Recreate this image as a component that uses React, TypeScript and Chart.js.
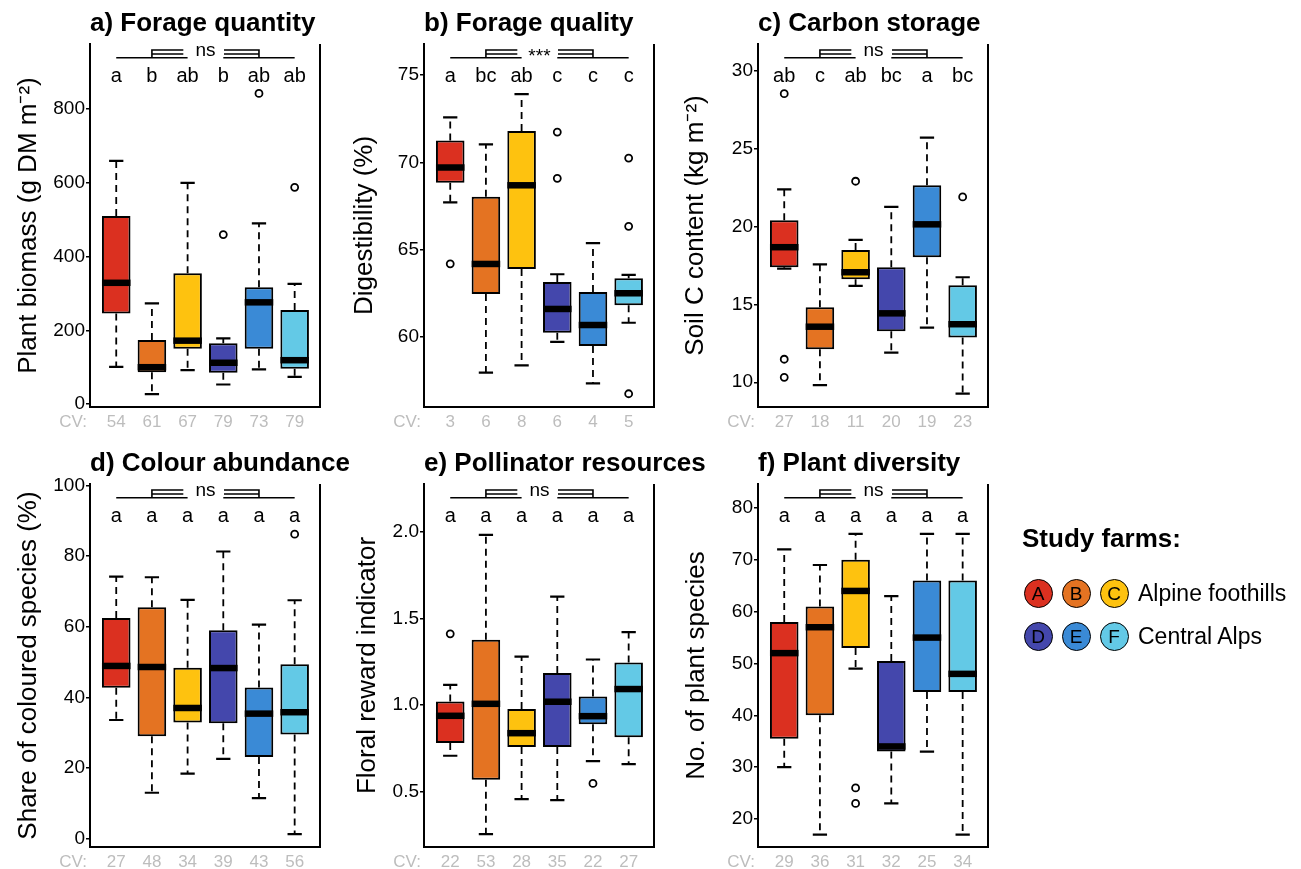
import React, { useEffect, useRef } from "react";
import { Chart, registerables } from "chart.js";

Chart.register(...registerables);

const FONT = "'Liberation Sans', Arial, Helvetica, sans-serif";
Chart.defaults.font.family = FONT;

const farms = ["A", "B", "C", "D", "E", "F"];
const farmColors = ["#DB3020", "#E47322", "#FEC20F", "#4447AC", "#3A8AD6", "#63C9E6"];
const xPositions = [1, 2, 3, 4, 5, 6];

// a) Forage quantity
const aLow = [101, 27, 92, 53, 94, 74];
const aQ1 = [246, 86, 150, 85, 150, 96];
const aMed = [329, 100, 172, 112, 276, 119];
const aQ3 = [510, 174, 355, 165, 317, 255];
const aHigh = [660, 273, 600, 178, 490, 326];
const aOut = [[], [], [], [460], [843], [588]];
const aLetters = ["a", "b", "ab", "b", "ab", "ab"];
const aCV = ["54", "61", "67", "79", "73", "79"];
const aTicks = [0, 200, 400, 600, 800];

// b) Forage quality
const bLow = [67.7, 57.94, 58.36, 59.7, 57.33, 60.8];
const bQ1 = [68.83, 62.45, 63.88, 60.23, 59.47, 61.8];
const bMed = [69.7, 64.17, 68.68, 61.59, 60.67, 62.49];
const bQ3 = [71.25, 68.02, 71.79, 63.13, 62.56, 63.35];
const bHigh = [72.57, 71.03, 73.91, 63.58, 65.37, 63.55];
const bOut = [[64.18], [], [], [71.73, 69.08], [], [70.24, 66.33, 56.73]];
const bLetters = ["a", "bc", "ab", "c", "c", "c"];
const bCV = ["3", "6", "8", "6", "4", "5"];
const bTicks = [60, 65, 70, 75];

// c) Carbon storage
const cLow = [17.3, 9.81, 16.19, 11.9, 13.51, 9.27];
const cQ1 = [17.39, 12.12, 16.62, 13.28, 18.03, 12.87];
const cMed = [18.68, 13.57, 17.07, 14.43, 20.15, 13.73];
const cQ3 = [20.41, 14.82, 18.5, 17.39, 22.66, 16.23];
const cHigh = [22.4, 17.58, 19.15, 21.27, 25.72, 16.75];
const cOut = [[28.55, 11.48, 10.32], [], [22.92], [], [], [21.91]];
const cLetters = ["ab", "c", "ab", "bc", "a", "bc"];
const cCV = ["27", "18", "11", "20", "19", "23"];
const cTicks = [10, 15, 20, 25, 30];

// d) Colour abundance
const dLow = [33.6, 13.0, 18.4, 22.6, 11.5, 1.3];
const dQ1 = [42.7, 29.0, 32.9, 32.7, 23.1, 29.5];
const dMed = [48.9, 48.6, 37.0, 48.3, 35.4, 35.8];
const dQ3 = [62.5, 65.5, 48.4, 59.0, 42.8, 49.4];
const dHigh = [74.2, 74.0, 67.6, 81.3, 60.6, 67.5];
const dOut = [[], [], [], [], [], [86.2]];
const dLetters = ["a", "a", "a", "a", "a", "a"];
const dCV = ["27", "48", "34", "39", "43", "56"];
const dTicks = [0, 20, 40, 60, 80, 100];

// e) Pollinator resources
const eLow = [0.709, 0.258, 0.46, 0.454, 0.678, 0.661];
const eQ1 = [0.782, 0.571, 0.759, 0.759, 0.891, 0.816];
const eMed = [0.939, 1.008, 0.839, 1.02, 0.937, 1.093];
const eQ3 = [1.021, 1.376, 0.978, 1.186, 1.05, 1.246];
const eHigh = [1.117, 1.98, 1.28, 1.625, 1.263, 1.42];
const eOut = [[1.411], [], [], [], [0.55], []];
const eLetters = ["a", "a", "a", "a", "a", "a"];
const eCV = ["22", "53", "28", "35", "22", "27"];
const eTicks = [0.5, 1.0, 1.5, 2.0];

// f) Plant diversity
const fLow = [30, 17, 49, 23, 33, 17];
const fQ1 = [35.5, 40, 53, 33, 44.5, 44.5];
const fMed = [52, 57, 64, 34, 55, 48];
const fQ3 = [58, 61, 70, 50.5, 66, 66];
const fHigh = [72, 69, 75, 63, 75, 75];
const fOut = [[], [], [26, 23], [], [], []];
const fLetters = ["a", "a", "a", "a", "a", "a"];
const fCV = ["29", "36", "31", "32", "25", "34"];
const fTicks = [20, 30, 40, 50, 60, 70, 80];

type Panel = {
  title: string;
  yTitle: string;
  ticks: number[];
  yMin: number;
  yMax: number;
  dec: number;
  letters: string[];
  sig: string;
  cv: string[];
  low: number[];
  q1: number[];
  med: number[];
  q3: number[];
  high: number[];
  out: number[][];
  left: number;
  top: number;
  yTitleX: number;
};

const panels: Panel[] = [
  { title: "a) Forage quantity", yTitle: "Plant biomass (g DM m\u207B\u00B2)", ticks: aTicks, yMin: -8, yMax: 977, dec: 0, letters: aLetters, sig: "ns", cv: aCV, low: aLow, q1: aQ1, med: aMed, q3: aQ3, high: aHigh, out: aOut, left: 0, top: 0, yTitleX: 29 },
  { title: "b) Forage quality", yTitle: "Digestibility (%)", ticks: bTicks, yMin: 55.97, yMax: 76.78, dec: 0, letters: bLetters, sig: "***", cv: bCV, low: bLow, q1: bQ1, med: bMed, q3: bQ3, high: bHigh, out: bOut, left: 334, top: 0, yTitleX: 31 },
  { title: "c) Carbon storage", yTitle: "Soil C content (kg m\u207B\u00B2)", ticks: cTicks, yMin: 8.41, yMax: 31.74, dec: 0, letters: cLetters, sig: "ns", cv: cCV, low: cLow, q1: cQ1, med: cMed, q3: cQ3, high: cHigh, out: cOut, left: 668, top: 0, yTitleX: 28 },
  { title: "d) Colour abundance", yTitle: "Share of coloured species (%)", ticks: dTicks, yMin: -2.35, yMax: 100.4, dec: 0, letters: dLetters, sig: "ns", cv: dCV, low: dLow, q1: dQ1, med: dMed, q3: dQ3, high: dHigh, out: dOut, left: 0, top: 440, yTitleX: 29 },
  { title: "e) Pollinator resources", yTitle: "Floral reward indicator", ticks: eTicks, yMin: 0.184, yMax: 2.273, dec: 1, letters: eLetters, sig: "ns", cv: eCV, low: eLow, q1: eQ1, med: eMed, q3: eQ3, high: eHigh, out: eOut, left: 334, top: 440, yTitleX: 34 },
  { title: "f) Plant diversity", yTitle: "No. of plant species", ticks: fTicks, yMin: 14.6, yMax: 84.63, dec: 0, letters: fLetters, sig: "ns", cv: fCV, low: fLow, q1: fQ1, med: fMed, q3: fQ3, high: fHigh, out: fOut, left: 668, top: 440, yTitleX: 29 },
];

const CW = 420;
const CH = 436;
const AREA_LEFT = 90;
const AREA_TOP = 44;
const AREA_RIGHT = 320;
const AREA_BOTTOM = 407;

function makePlugin(p: Panel) {
  return {
    id: "boxExtras",
    afterDatasetsDraw(chart: any) {
      const { ctx, scales } = chart;
      const x = scales.x;
      const y = scales.y;
      const halfBox = x.getPixelForValue(1.4) - x.getPixelForValue(1);
      const halfCap = halfBox / 2;
      ctx.save();
      ctx.strokeStyle = "#000";
      for (let i = 0; i < xPositions.length; i++) {
        const cx = x.getPixelForValue(xPositions[i]);
        const yq1 = y.getPixelForValue(p.q1[i]);
        const yq3 = y.getPixelForValue(p.q3[i]);
        const ylo = y.getPixelForValue(p.low[i]);
        const yhi = y.getPixelForValue(p.high[i]);
        const ymed = y.getPixelForValue(p.med[i]);
        ctx.lineWidth = 1.8;
        ctx.setLineDash([7, 5]);
        ctx.beginPath();
        ctx.moveTo(cx, yq3);
        ctx.lineTo(cx, yhi);
        ctx.moveTo(cx, yq1);
        ctx.lineTo(cx, ylo);
        ctx.stroke();
        ctx.setLineDash([]);
        ctx.lineWidth = 2.2;
        ctx.beginPath();
        ctx.moveTo(cx - halfCap, yhi);
        ctx.lineTo(cx + halfCap, yhi);
        ctx.moveTo(cx - halfCap, ylo);
        ctx.lineTo(cx + halfCap, ylo);
        ctx.stroke();
        ctx.lineWidth = 6.5;
        ctx.beginPath();
        ctx.moveTo(cx - halfBox, ymed);
        ctx.lineTo(cx + halfBox, ymed);
        ctx.stroke();
      }
      ctx.restore();
    },
    afterDraw(chart: any) {
      const { ctx, chartArea: ca, scales } = chart;
      const x = scales.x;
      const px = (v: number) => x.getPixelForValue(v);
      ctx.save();
      ctx.strokeStyle = "#000";
      ctx.lineWidth = 2;
      ctx.beginPath();
      ctx.moveTo(ca.right, ca.top);
      ctx.lineTo(ca.right, ca.bottom + 1);
      ctx.stroke();
      ctx.fillStyle = "#000";
      ctx.font = `bold 26px ${FONT}`;
      ctx.textAlign = "left";
      ctx.textBaseline = "alphabetic";
      ctx.fillText(p.title, ca.left, ca.top - 13);
      const yb = ca.top + 13.7;
      const yt = ca.top + 6;
      const ym = ca.top + 10;
      ctx.lineWidth = 1.6;
      ctx.beginPath();
      ctx.moveTo(px(1), yb); ctx.lineTo(px(3), yb);
      ctx.moveTo(px(4), yb); ctx.lineTo(px(6), yb);
      ctx.moveTo(px(2), yb); ctx.lineTo(px(2), yt); ctx.lineTo(px(2.88), yt);
      ctx.moveTo(px(2), ym); ctx.lineTo(px(2.88), ym);
      ctx.moveTo(px(5), yb); ctx.lineTo(px(5), yt); ctx.lineTo(px(4.02), yt);
      ctx.moveTo(px(5), ym); ctx.lineTo(px(4.02), ym);
      ctx.stroke();
      ctx.textAlign = "center";
      ctx.font = `19px ${FONT}`;
      ctx.fillText(p.sig, px(3.5), p.sig === "ns" ? ca.top + 11.7 : ca.top + 18);
      ctx.font = `20px ${FONT}`;
      for (let i = 0; i < xPositions.length; i++) {
        ctx.fillText(p.letters[i], px(xPositions[i]), ca.top + 37.7);
      }
      ctx.fillStyle = "#BDBDBD";
      ctx.font = `17px ${FONT}`;
      ctx.textAlign = "right";
      ctx.textBaseline = "middle";
      ctx.fillText("CV:", ca.left - 3, ca.bottom + 15.2);
      ctx.restore();
    },
  };
}

function BoxPanel({ p }: { p: Panel }) {
  const ref = useRef<HTMLCanvasElement | null>(null);
  useEffect(() => {
    if (!ref.current) return;
    const outPts: { x: number; y: number }[] = [];
    p.out.forEach((arr, i) => arr.forEach((v) => outPts.push({ x: xPositions[i], y: v })));
    const chart = new Chart(ref.current, {
      type: "bar",
      data: {
        datasets: [
          {
            type: "bar",
            data: xPositions.map((xv, i) => ({ x: xv, y: [p.q1[i], p.q3[i]] })) as any,
            backgroundColor: farmColors,
            borderColor: "#000",
            borderWidth: 2,
            borderSkipped: false,
            barPercentage: 0.8,
            categoryPercentage: 1,
            order: 2,
          } as any,
          {
            type: "scatter",
            data: outPts,
            pointRadius: 3.5,
            pointBorderWidth: 1.8,
            pointBackgroundColor: "#fff",
            pointBorderColor: "#000",
            order: 1,
          } as any,
        ],
      },
      options: {
        animation: false,
        responsive: false,
        maintainAspectRatio: false,
        layout: { padding: { top: AREA_TOP, left: 0, right: CW - AREA_RIGHT, bottom: 0 } },
        plugins: {
          legend: { display: false },
          tooltip: { enabled: false },
          title: { display: false },
        },
        scales: {
          x: {
            type: "linear",
            position: "bottom",
            offset: false,
            min: 0.265,
            max: 6.71,
            afterFit: (s: any) => {
              s.height = CH - AREA_BOTTOM;
            },
            afterBuildTicks: (s: any) => {
              s.ticks = xPositions.map((v) => ({ value: v }));
            },
            ticks: {
              autoSkip: false,
              maxRotation: 0,
              padding: 5,
              color: "#BDBDBD",
              font: { size: 17 },
              callback: (_v: any, i: number) => p.cv[i],
            },
            grid: { display: false, drawTicks: false, offset: false },
            border: { display: true, color: "#000", width: 2 },
          },
          y: {
            type: "linear",
            position: "left",
            min: p.yMin,
            max: p.yMax,
            afterFit: (s: any) => {
              s.width = AREA_LEFT;
            },
            afterBuildTicks: (s: any) => {
              s.ticks = p.ticks.map((v) => ({ value: v }));
            },
            ticks: {
              color: "#000",
              padding: 1,
              font: { size: 19 },
              callback: (v: any) => Number(v).toFixed(p.dec),
            },
            grid: { display: true, drawOnChartArea: false, drawTicks: true, tickLength: 4, color: "#000", lineWidth: 1.5 },
            border: { display: true, color: "#000", width: 2 },
            title: {
              display: true,
              text: p.yTitle,
              color: "#000",
              font: { size: 26, lineHeight: 1 },
              padding: { top: p.yTitleX - 13, bottom: 0 },
            },
          },
        },
      } as any,
      plugins: [makePlugin(p)],
    });
    return () => chart.destroy();
  }, [p]);
  return (
    <canvas
      ref={ref}
      width={CW}
      height={CH}
      style={{ position: "absolute", left: p.left, top: p.top, width: CW, height: CH }}
    />
  );
}

const legendRows = [
  { ids: [0, 1, 2], label: "Alpine foothills", cy: 593 },
  { ids: [3, 4, 5], label: "Central Alps", cy: 636 },
];
const legendCx = [1038, 1076, 1114];

export default function App() {
  return (
    <div style={{ position: "absolute", left: 0, top: 0, width: 1301, height: 869, background: "#fff", fontFamily: FONT, overflow: "hidden" }}>
      {panels.map((p, i) => (
        <BoxPanel key={i} p={p} />
      ))}
      <div style={{ position: "absolute", left: 1022, top: 521, font: `bold 26px ${FONT}`, lineHeight: "34px", whiteSpace: "nowrap", color: "#000" }}>
        Study farms:
      </div>
      {legendRows.map((row, r) => (
        <React.Fragment key={r}>
          {row.ids.map((id, k) => (
            <div
              key={id}
              style={{
                position: "absolute",
                left: legendCx[k] - 14.5,
                top: row.cy - 14.5,
                width: 29,
                height: 29,
                boxSizing: "border-box",
                border: "1.6px solid #000",
                borderRadius: "50%",
                background: farmColors[id],
                display: "flex",
                alignItems: "center",
                justifyContent: "center",
                font: `19px ${FONT}`,
                lineHeight: "1",
                color: "#000",
              }}
            >
              {farms[id]}
            </div>
          ))}
          <div style={{ position: "absolute", left: 1138, top: row.cy - 14, font: `23px ${FONT}`, lineHeight: "28px", whiteSpace: "nowrap", color: "#000" }}>
            {row.label}
          </div>
        </React.Fragment>
      ))}
    </div>
  );
}
